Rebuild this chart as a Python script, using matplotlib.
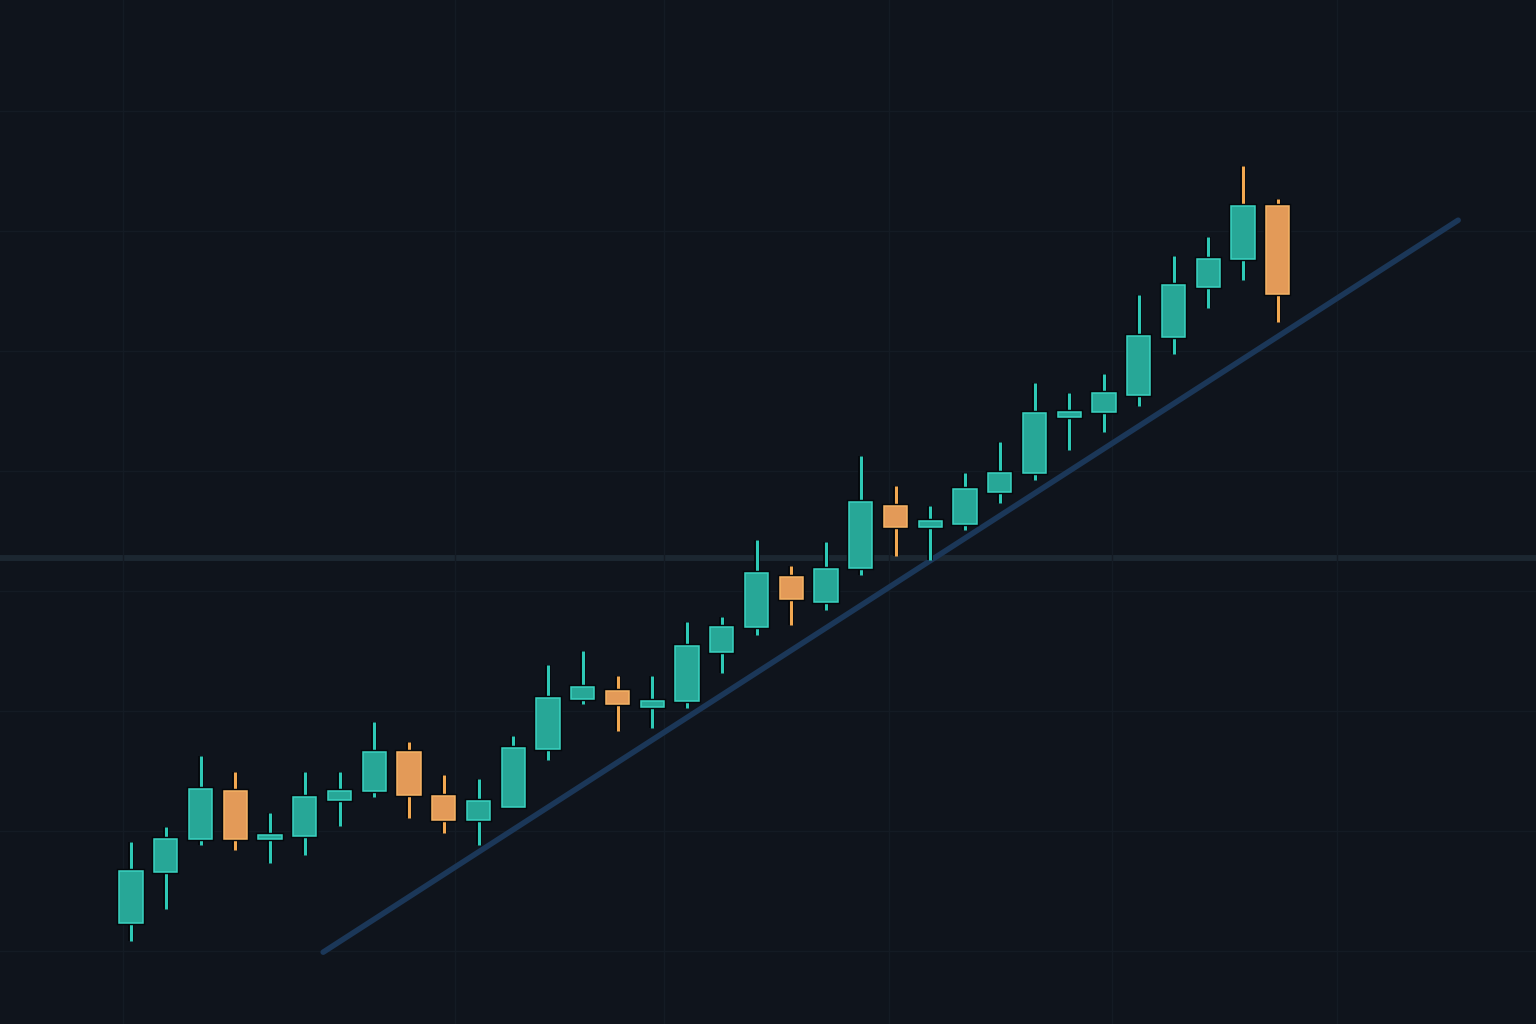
import matplotlib

matplotlib.use("Agg")

import matplotlib.pyplot as plt
import matplotlib.patheffects as pe
import numpy as np

# candle data (index, open, high, low, close)
OPENS = [104.7, 113.1, 118.6, 126.7, 118.6, 119.2, 125.1, 126.7, 133.2, 125.8,
         121.9, 124.0, 133.7, 142.0, 143.3, 140.7, 141.7, 149.9, 154.0, 162.3,
         158.2, 163.8, 174.2, 170.6, 171.2, 176.5, 179.6, 189.0, 189.8, 192.7,
         202.4, 210.6, 215.3, 224.2]
HIGHS = [118.2, 120.7, 132.5, 129.8, 123.0, 129.8, 129.8, 138.1, 134.9, 129.3,
         128.6, 135.8, 147.7, 150.0, 145.9, 145.9, 154.9, 155.7, 168.5, 164.2,
         168.2, 182.5, 177.5, 174.2, 179.6, 184.8, 194.7, 193.0, 196.2, 209.3,
         215.8, 219.0, 230.8, 225.3]
LOWS = [101.6, 107.0, 117.7, 116.8, 114.6, 116.0, 120.9, 125.7, 122.2, 119.7,
        117.7, 123.8, 131.8, 141.2, 136.6, 137.2, 140.5, 146.3, 152.7, 154.3,
        156.8, 162.6, 165.8, 165.2, 170.1, 174.7, 178.5, 183.5, 186.5, 190.9,
        199.5, 207.2, 211.9, 204.9]
CLOSES = [113.3, 118.7, 127.0, 118.6, 119.3, 125.6, 126.7, 133.2, 126.0, 121.9,
          125.0, 133.9, 142.2, 144.0, 141.2, 141.7, 150.8, 154.0, 163.0, 158.7,
          163.7, 174.8, 170.6, 171.7, 177.0, 179.6, 189.7, 189.8, 193.0, 202.5,
          211.0, 215.3, 224.2, 209.5]
ORANGE_UPPER_WICK = [32]

TREND_X = [5.53, 38.19]
TREND_Y = [99.8, 221.8]
GUIDE_LEVEL = 165.5

GRID_Y = [100, 120, 140, 160, 180, 200, 220, 240]
GRID_X = [-0.23, 9.32, 15.34, 21.81, 28.23, 34.71]

BG = "#0f141c"
GRID_COLOR = "#141b24"
GUIDE_COLOR = "#1c2731"
TREND_COLOR = "#1b3758"
UP_BODY = "#27a797"
UP_EDGE = "#3ad3c1"
UP_WICK = "#2ec9b6"
DOWN_BODY = "#e39a58"
DOWN_EDGE = "#f6b465"
DOWN_WICK = "#f2a851"
OUTLINE = "#05080c"
BODY_WIDTH = 0.67


def main() -> None:
    fig = plt.figure(figsize=(15.36, 10.24), dpi=100)
    fig.patch.set_facecolor(BG)
    ax = fig.add_axes([0, 0, 1, 1])
    ax.set_facecolor(BG)

    ax.set_xlim(-3.77, 40.43)
    ax.set_ylim(87.83, 258.5)
    ax.set_xticks(GRID_X)
    ax.set_yticks(GRID_Y)
    ax.grid(True, color=GRID_COLOR, linewidth=1.0)
    ax.tick_params(left=False, bottom=False, labelleft=False, labelbottom=False)
    for spine in ax.spines.values():
        spine.set_visible(False)

    ax.axhline(GUIDE_LEVEL, color=GUIDE_COLOR, linewidth=4.3, zorder=1)
    ax.plot(TREND_X, TREND_Y, color=TREND_COLOR, linewidth=4.0,
            solid_capstyle="round", zorder=2)

    outline = [pe.Stroke(linewidth=4.2, foreground=OUTLINE), pe.Normal()]
    box_outline = [pe.Stroke(linewidth=3.2, foreground=OUTLINE), pe.Normal()]

    xs = np.arange(len(OPENS))
    for i, (o, h, l, c) in enumerate(zip(OPENS, HIGHS, LOWS, CLOSES)):
        up = c >= o
        wick = UP_WICK if up else DOWN_WICK
        top, bottom = max(o, c), min(o, c)
        upper_color = DOWN_WICK if i in ORANGE_UPPER_WICK else wick
        if h > top:
            ax.plot([xs[i], xs[i]], [top, h], color=upper_color, linewidth=2.2,
                    solid_capstyle="butt", path_effects=outline, zorder=3)
        if l < bottom:
            ax.plot([xs[i], xs[i]], [l, bottom], color=wick, linewidth=2.2,
                    solid_capstyle="butt", path_effects=outline, zorder=3)
        ax.bar(
            xs[i],
            top - bottom,
            bottom=bottom,
            width=BODY_WIDTH,
            color=UP_BODY if up else DOWN_BODY,
            edgecolor=UP_EDGE if up else DOWN_EDGE,
            linewidth=1.1,
            path_effects=box_outline,
            zorder=4,
        )

    fig.savefig("out.png", dpi=100, facecolor=BG)
    plt.close(fig)


if __name__ == "__main__":
    main()
